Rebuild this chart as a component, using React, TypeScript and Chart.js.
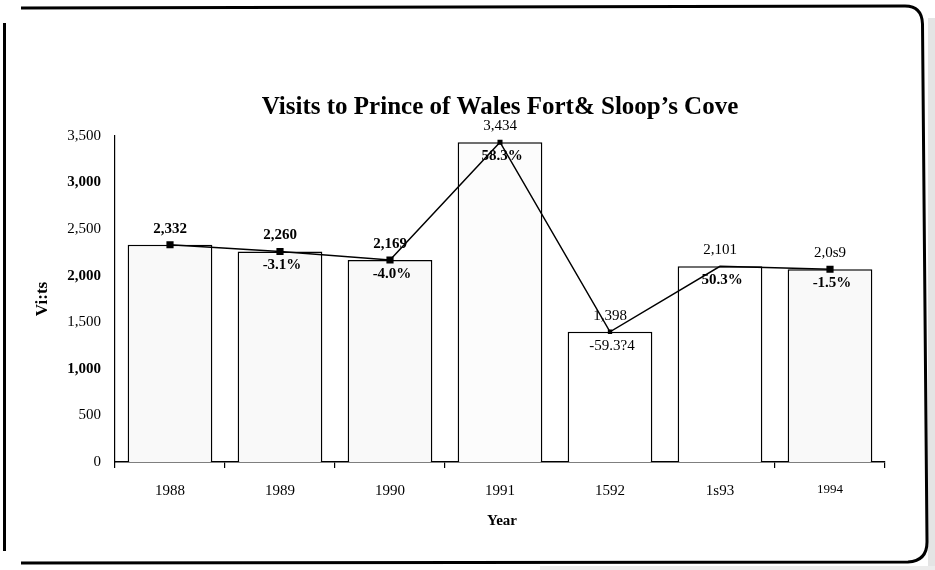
import React, { useEffect, useRef } from "react";
import { Chart, registerables } from "chart.js";

Chart.register(...registerables);

// ---- data (as printed on the reference) ----
const years = ["1988", "1989", "1990", "1991", "1592", "1s93", "1994"];
const visits = [2332, 2260, 2169, 3434, 1398, 2101, 2069];
const valueLabels = ["2,332", "2,260", "2,169", "3,434", "1,398", "2,101", "2,0s9"];
const changeLabels = ["", "-3.1%", "-4.0%", "58.3%", "-59.3?4", "50.3%", "-1.5%"];
const boldValue = [true, true, true, false, false, false, false];
const boldChange = [true, true, true, true, false, true, true];
const titleText = "Visits to Prince of Wales Fort& Sloop\u2019s Cove";
const yTitle = "Vi:ts";
const xTitle = "Year";

const SERIF = '"Liberation Serif", "Times New Roman", Times, serif';

const decorPlugin = {
  id: "decor",
  beforeDraw(chart: any) {
    const ctx = chart.ctx;
    ctx.save();
    ctx.fillStyle = "#fff";
    ctx.fillRect(0, 0, chart.width, chart.height);
    // speckled scan edges
    ctx.fillStyle = "#e4e4e4";
    ctx.fillRect(928, 18, 7, 552);
    ctx.fillStyle = "#ececec";
    ctx.fillRect(540, 566, 395, 4);
    ctx.restore();
  },
  afterDraw(chart: any) {
    const ctx = chart.ctx;
    const area = chart.chartArea;
    ctx.save();
    // frame
    ctx.strokeStyle = "#000";
    ctx.lineWidth = 3;
    ctx.beginPath();
    ctx.moveTo(4.5, 23);
    ctx.lineTo(4.5, 551);
    ctx.stroke();
    ctx.beginPath();
    ctx.moveTo(21, 8);
    ctx.lineTo(905, 6);
    ctx.quadraticCurveTo(922, 6, 922.5, 24);
    ctx.lineTo(927, 542);
    ctx.quadraticCurveTo(927, 561, 908, 562);
    ctx.lineTo(21, 563);
    ctx.stroke();

    // title
    ctx.fillStyle = "#000";
    ctx.textAlign = "center";
    ctx.textBaseline = "middle";
    ctx.font = `bold 25px ${SERIF}`;
    ctx.fillText(titleText, (area.left + area.right) / 2, 108);

    // axis titles
    ctx.font = `bold 15px ${SERIF}`;
    ctx.fillText(xTitle, 502, 521);
    ctx.save();
    ctx.translate(43, 299);
    ctx.rotate(-Math.PI / 2);
    ctx.font = `bold 17px ${SERIF}`;
    ctx.fillText(yTitle, 0, 0);
    ctx.restore();

    // data labels
    const meta = chart.getDatasetMeta(1);
    meta.data.forEach((pt: any, i: number) => {
      ctx.font = `${boldValue[i] ? "bold " : ""}15px ${SERIF}`;
      ctx.fillText(valueLabels[i], pt.x, pt.y - 16);
      if (changeLabels[i]) {
        ctx.font = `${boldChange[i] ? "bold " : ""}15px ${SERIF}`;
        ctx.fillText(changeLabels[i], pt.x + 2, pt.y + 14);
      }
    });
    ctx.restore();
  },
};

export default function App() {
  const ref = useRef<HTMLCanvasElement | null>(null);

  useEffect(() => {
    if (!ref.current) return;
    const barFills = ["#f9f9f9", "#f9f9f9", "#f9f9f9", "#fcfcfc", "#ffffff", "#ffffff", "#f9f9f9"];
    const chart = new Chart(ref.current, {
      type: "bar",
      data: {
        labels: years,
        datasets: [
          {
            type: "bar",
            label: "Visits",
            data: visits,
            backgroundColor: barFills,
            borderColor: "#000",
            borderWidth: 1.5,
            borderSkipped: "bottom",
            barPercentage: 0.77,
            categoryPercentage: 1,
            order: 2,
          } as any,
          {
            type: "line",
            label: "Trend",
            data: visits,
            borderColor: "#000",
            borderWidth: 1.5,
            tension: 0,
            pointStyle: "rect",
            pointRadius: [4, 4, 4, 2.5, 2, 0, 4],
            pointBackgroundColor: "#000",
            pointBorderColor: "#000",
            order: 1,
          } as any,
        ],
      },
      options: {
        responsive: false,
        animation: false,
        layout: { padding: { left: 0, right: 50, top: 136, bottom: 0 } },
        plugins: {
          legend: { display: false },
          title: { display: false },
          tooltip: { enabled: false },
        },
        scales: {
          x: {
            offset: true,
            grid: {
              display: true,
              drawOnChartArea: false,
              drawTicks: true,
              tickLength: 6,
              color: (c: any) => (c.index === 4 || c.index === 5 ? "rgba(0,0,0,0)" : "#000"),
              lineWidth: 1.2,
            },
            border: { display: true, color: "#000", width: 1.5 },
            ticks: {
              color: "#000",
              padding: 14,
              maxRotation: 0,
              font: (c: any) =>
                c.index === 6
                  ? { family: SERIF, size: 13 }
                  : { family: SERIF, size: 15 },
            },
            afterFit: (s: any) => {
              s.height = 108;
            },
          },
          y: {
            min: 0,
            max: 3500,
            grid: { display: false },
            border: { display: true, color: "#000", width: 1.2 },
            ticks: {
              stepSize: 500,
              color: "#000",
              padding: 6,
              callback: (v: any) => Number(v).toLocaleString("en-US"),
              font: (c: any) => {
                const v = c.tick ? c.tick.value : 0;
                const bold = v === 3000 || v === 2000 || v === 1000;
                return { family: SERIF, size: 15, weight: bold ? "bold" : "normal" };
              },
            },
            afterFit: (s: any) => {
              s.width = 115;
            },
          },
        },
      },
      plugins: [decorPlugin],
    } as any);
    return () => chart.destroy();
  }, []);

  return (
    <div style={{ position: "absolute", left: 0, top: 0, width: 935, height: 570, background: "#fff" }}>
      <canvas ref={ref} width={935} height={570} style={{ display: "block", width: 935, height: 570 }} />
    </div>
  );
}
